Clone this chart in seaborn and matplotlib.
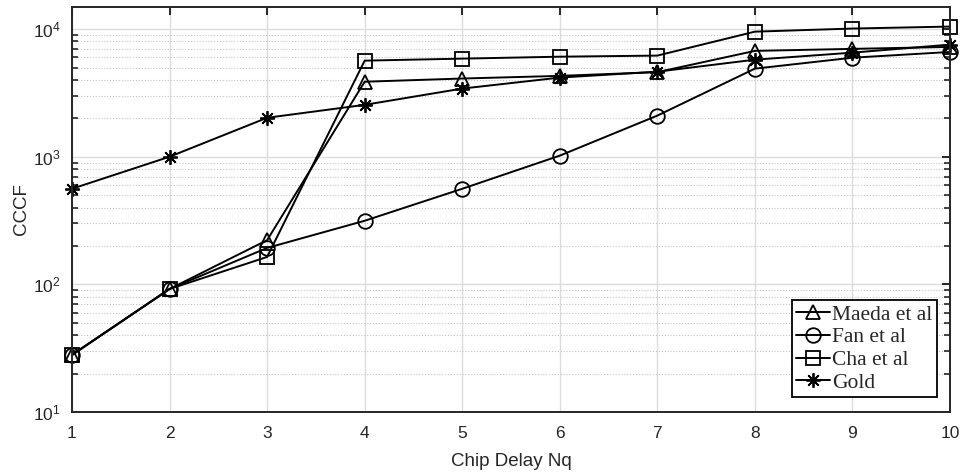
import matplotlib
matplotlib.use("Agg")
import matplotlib.pyplot as plt
from matplotlib.ticker import LogLocator, FixedLocator
import seaborn as sns
import numpy as np

# Chip delay values and CCCF for each code family
chip_delay = [1, 2, 3, 4, 5, 6, 7, 8, 9, 10]
maeda = [28, 92, 222, 3870, 4100, 4300, 4600, 6750, 7000, 7250]
fan = [28, 92, 193, 315, 561, 1020, 2100, 4900, 5970, 6620]
cha = [28, 92, 164, 5660, 5870, 6080, 6200, 9550, 10100, 10470]
gold = [561, 1000, 2020, 2550, 3420, 4170, 4640, 5760, 6540, 7560]

series_names = ["Maeda et al", "Fan et al", "Cha et al", "Gold"]
series_values = [maeda, fan, cha, gold]
series_markers = ["^", "o", "s", (8, 2, 0)]
series_sizes = [10.5, 10.5, 9.5, 10.5]

sns.set_style("white")
plt.rcParams["font.family"] = ["Liberation Sans", "DejaVu Sans"]
plt.rcParams["mathtext.default"] = "regular"

fig = plt.figure(figsize=(9.64, 4.72), dpi=100)
ax = fig.add_axes([72 / 964, 60 / 472, (950 - 72) / 964, (412 - 7) / 472])

for name, vals, mk, ms in zip(series_names, series_values, series_markers, series_sizes):
    sns.lineplot(x=chip_delay, y=vals, ax=ax, label=name, color="black",
                 linewidth=1.4, marker=mk, markersize=ms,
                 markerfacecolor="none", markeredgecolor="black",
                 markeredgewidth=1.3, clip_on=False)

ax.set_yscale("log")
ax.set_xlim(1, 10)
ax.set_ylim(10, 1.49e4)
ax.xaxis.set_major_locator(FixedLocator(chip_delay))
ax.yaxis.set_major_locator(LogLocator(base=10, numticks=10))
ax.yaxis.set_minor_locator(LogLocator(base=10, subs=np.arange(2, 10), numticks=20))

# Grid: solid major lines, dotted minor lines
ax.grid(True, which="major", color="#dcdcdc", linewidth=1.0, linestyle="-")
ax.grid(True, which="minor", axis="y", color="#c4c4c4", linewidth=0.8,
        linestyle=(0, (1, 1.6)))
ax.set_axisbelow(True)

for sp in ax.spines.values():
    sp.set_color("#262626")
    sp.set_linewidth(1.4)

ax.tick_params(axis="both", which="major", direction="in", length=6, width=1.4,
               top=True, right=True, labelsize=12.5, colors="#262626")
ax.tick_params(axis="x", which="major", pad=10)
ax.tick_params(axis="y", which="major", pad=8)
ax.tick_params(axis="y", which="minor", direction="in", length=4, width=1.2,
               right=True, left=True, colors="#262626")
ax.tick_params(axis="x", which="minor", bottom=False, top=False)

ax.set_xlabel("Chip Delay Nq", fontsize=13.5, color="#262626", labelpad=9)
ax.set_ylabel("CCCF", fontsize=13.5, color="#262626", labelpad=2)

leg = ax.legend(loc="lower right",
                bbox_to_anchor=((937 - 72) / (950 - 72), (412 - 397) / (412 - 7)),
                prop={"family": "Liberation Serif", "size": 15.5},
                frameon=True, fancybox=False, edgecolor="black", framealpha=1,
                borderpad=0.2, labelspacing=0.12, handlelength=1.6,
                handletextpad=0.1, borderaxespad=0)
leg.get_frame().set_linewidth(1.3)

fig.savefig("out.png", dpi=100)
